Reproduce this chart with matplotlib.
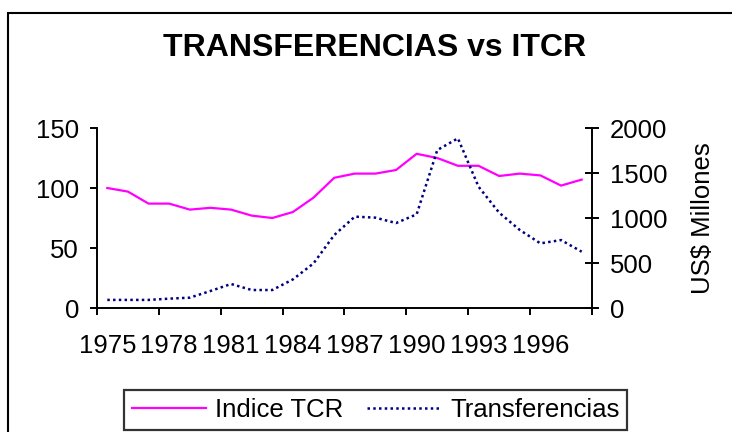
import matplotlib.pyplot as plt
from matplotlib.patches import Rectangle

plt.rcParams['font.family'] = ['Liberation Sans', 'DejaVu Sans']

# data
years = list(range(1975, 1999))
itcr = [100, 97, 87, 87, 82, 83.5, 82, 77, 75, 80, 92, 108.5,
        112, 112, 115, 128.5, 125, 118.5, 118.5, 110, 112, 110.5, 102, 107]
transfer = [90, 90, 90, 104, 115, 189, 267, 200, 200, 318, 496, 810,
            1015, 1004, 944, 1041, 1755, 1885, 1348, 1059, 867, 718, 755, 626]
label_years = years[::3]

fig = plt.figure(figsize=(7.32, 4.32), dpi=100)
ax = fig.add_axes([0.1325, 0.287, 0.6762, 0.4167])
ax2 = ax.twinx()

x = list(range(len(years)))
l1, = ax.plot(x, itcr, color='#FF00FF', lw=1.6, label='Indice TCR')
l2, = ax2.plot(x, transfer, color='#000080', lw=1.8, linestyle=(0, (1, 1.3)),
               label='Transferencias')

ax.set_xlim(-0.5, len(years) - 0.5)
ax.set_ylim(0, 150)
ax2.set_ylim(0, 2000)
ax.set_yticks([0, 50, 100, 150])
ax2.set_yticks([0, 500, 1000, 1500, 2000])

# tick marks between categories, labels under every third year
ax.set_xticks([i - 0.5 for i in range(0, len(years) + 1, 3)])
ax.set_xticklabels([])
ax.set_xticks([years.index(y) for y in label_years], minor=True)
ax.set_xticklabels([str(y) for y in label_years], minor=True)
ax.tick_params(axis='x', which='major', direction='out', length=5, width=1.4)
ax.tick_params(axis='x', which='minor', length=0, pad=19, labelsize=18.5)
ax.tick_params(axis='y', direction='out', length=5, width=1.4, pad=8, labelsize=18.5)
ax2.tick_params(axis='y', direction='inout', length=10, width=1.4, pad=8, labelsize=18.5)

for a in (ax, ax2):
    a.spines['top'].set_visible(False)
    for s in ('left', 'right', 'bottom'):
        a.spines[s].set_linewidth(1.4)
ax.spines['right'].set_visible(False)
ax2.spines['left'].set_visible(False)
ax2.spines['bottom'].set_visible(False)

ax2.set_ylabel('US$ Millones', fontsize=18.5, labelpad=17)

fig.text(0.512, 0.888, 'TRANSFERENCIAS vs ITCR', ha='center', va='center',
         fontsize=23, fontweight='bold')

leg = fig.legend(handles=[l1, l2], loc='center', bbox_to_anchor=(0.513, 0.051),
                 ncol=2, fontsize=18.5, frameon=True, fancybox=False,
                 handlelength=2.9, handletextpad=0.35, columnspacing=0.9,
                 borderpad=0.3, borderaxespad=0)
leg.get_frame().set_edgecolor('black')
leg.get_frame().set_linewidth(1.6)

# outer chart border, cut off at right and bottom
fig.patches.append(Rectangle((8 / 732, -0.2), 1.2, 0.2 + 419 / 432,
                             transform=fig.transFigure, fill=False,
                             edgecolor='black', lw=1.5, clip_on=False))

fig.savefig('out.png', dpi=100)
